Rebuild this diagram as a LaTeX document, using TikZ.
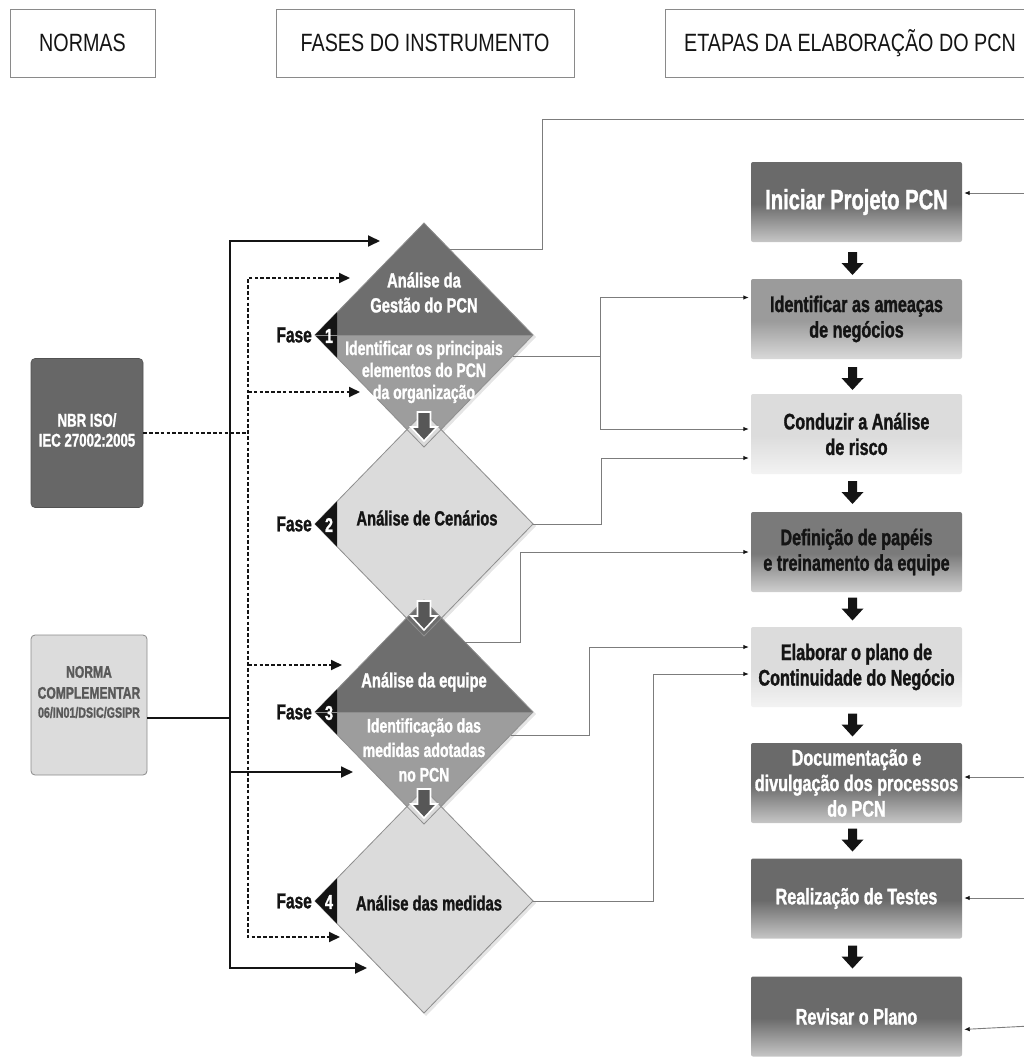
\documentclass[tikz,border=0pt]{standalone}
\usepackage{fontspec}
\setmainfont{Liberation Sans}
\newfontfamily\narrowsans[FakeStretch=0.79]{Liberation Sans}
\newfontfamily\condsans[FakeStretch=0.72, FakeBold=1.3]{Liberation Sans}
\usetikzlibrary{arrows.meta}

\definecolor{ink}{HTML}{141414}
\definecolor{frame}{HTML}{8A8A8A}
\definecolor{dtop}{HTML}{6E6E6E}
\definecolor{dmid}{HTML}{9D9D9D}
\definecolor{dlight}{HTML}{DBDBDB}
\definecolor{dedge}{HTML}{8E8E8E}
\definecolor{overarrow}{HTML}{575757}
\definecolor{linkgray}{HTML}{7C7C7C}
\definecolor{sdarkA}{HTML}{6A6A6A}
\definecolor{sdarkB}{HTML}{C6C6C6}
\definecolor{smidA}{HTML}{7A7A7A}
\definecolor{smidB}{HTML}{CFCFCF}
\definecolor{sgreyA}{HTML}{9B9B9B}
\definecolor{sgreyB}{HTML}{D9D9D9}
\definecolor{spaleA}{HTML}{DCDCDC}
\definecolor{spaleB}{HTML}{F3F3F3}
\definecolor{nbrfill}{HTML}{676767}
\definecolor{ncfill}{HTML}{DCDCDC}
\definecolor{nctext}{HTML}{595959}

% vertical fades of the step boxes (path spans 25bp..75bp)
\pgfdeclareverticalshading{stepdark}{100bp}{color(0bp)=(sdarkB); color(25bp)=(sdarkB); color(49bp)=(sdarkA); color(100bp)=(sdarkA)}
\pgfdeclareverticalshading{stepmid}{100bp}{color(0bp)=(smidB); color(25bp)=(smidB); color(49bp)=(smidA); color(100bp)=(smidA)}
\pgfdeclareverticalshading{stepgrey}{100bp}{color(0bp)=(sgreyB); color(25bp)=(sgreyB); color(49bp)=(sgreyA); color(100bp)=(sgreyA)}
\pgfdeclareverticalshading{steppale}{100bp}{color(0bp)=(spaleB); color(25bp)=(spaleB); color(49bp)=(spaleA); color(100bp)=(spaleA)}

\tikzset{
  hdr/.style={draw=frame, line width=0.9pt, inner sep=0pt, text=ink,
    font=\narrowsans\fontsize{25}{28}\selectfont},
  stepbox/.style={rounded corners=2pt, minimum width=211pt, minimum height=80pt,
    inner sep=0pt, align=center, font=\condsans\bfseries\fontsize{22.5}{25.5}\selectfont},
  normbox/.style={rounded corners=4pt, inner sep=0pt},
  normtext/.style={align=center, inner sep=0pt},
  phasetext/.style={align=center, inner sep=0pt, font=\condsans\bfseries\fontsize{20.5}{25}\selectfont},
  phasesub/.style={align=center, inner sep=0pt, text=white, font=\condsans\bfseries\fontsize{19.5}{22}\selectfont},
  faselbl/.style={inner sep=0pt, text=ink, font=\condsans\bfseries\fontsize{21.5}{22}\selectfont},
  fasenum/.style={inner sep=0pt, text=white, font=\condsans\bfseries\fontsize{20}{22}\selectfont},
  busline/.style={line width=1.8pt, draw=ink, line cap=butt},
  dashbus/.style={line width=1.9pt, draw=ink, dash pattern=on 3.6pt off 2.2pt},
  bustip/.style={-{Triangle[length=12pt,width=11pt]}},
  dashtip/.style={-{Triangle[length=11pt,width=10pt]}},
  stepline/.style={draw=linkgray, line width=0.9pt},
  steptip/.style={-{Latex[length=5.5pt,width=4.5pt,color=ink]}, shorten >=2pt},
  blockdown/.pic={\fill[ink] (-4.5,-11.5) -- (4.5,-11.5) -- (4.5,-0.5) -- (11,-0.5)
     -- (0,11.5) -- (-11,-0.5) -- (-4.5,-0.5) -- cycle;},
}

\begin{document}
\begin{tikzpicture}[x=1pt,y=-1pt]
\useasboundingbox (0,0) rectangle (1023,1057);

% ---------- column headers ----------
\node[hdr, minimum width=145pt, minimum height=68pt] (hnorm) at (82.5,43) {NORMAS};
\node[hdr, minimum width=298pt, minimum height=68pt] (hfase) at (425,43) {FASES DO INSTRUMENTO};
\node[hdr, minimum width=370pt, minimum height=68pt] (hstep) at (850,43) {ETAPAS DA ELABORAÇÃO DO PCN};

% ---------- phase diamonds ----------
\foreach \c in {335,524,712,901}
  \fill[black,opacity=0.10] (426,\c-110) -- (536,\c+2) -- (426,\c+115) -- (317,\c+2) -- cycle;
% phase 1
\fill[dtop] (424,223) -- (533,335) -- (315,335) -- cycle;
\fill[dmid] (315,335) -- (533,335) -- (424,447) -- cycle;
% phase 2
\fill[dlight] (424,412) -- (533,524) -- (424,636) -- (315,524) -- cycle;
% phase 3
\fill[dtop] (424,600) -- (533,712) -- (315,712) -- cycle;
\fill[dmid] (315,712) -- (533,712) -- (424,824) -- cycle;
% phase 4
\fill[dlight] (424,789) -- (533,901) -- (424,1013) -- (315,901) -- cycle;
\foreach \c in {335,524,712,901}{
  \draw[dedge, line width=0.8pt, line join=miter] (424,\c-112) -- (533,\c) -- (424,\c+112) -- (315,\c) -- cycle;
  \fill[ink] (315,\c) -- (337,\c-22.6) -- (337,\c+22.6) -- cycle;
}
\draw[dedge, line width=0.6pt] (315,335) -- (533,335);
\draw[dedge, line width=0.6pt] (315,712) -- (533,712);
% passage arrows between phases
\foreach \c in {335,524,712}
  \filldraw[fill=overarrow, draw=white, line width=1.6pt, line join=miter]
    (417.5,\c+77) -- (430.5,\c+77) -- (430.5,\c+92) -- (437,\c+92) -- (424,\c+106)
    -- (411,\c+92) -- (417.5,\c+92) -- cycle;

% phase texts
\node[phasetext, text=white] (p1a) at (424,292.5) {Análise da\\Gestão do PCN};
\node[phasesub] (p1b) at (424,372) {Identificar os principais\\elementos do PCN\\da organização};
\node[phasetext, text=ink] (p2a) at (427,518) {Análise de Cenários};
\node[phasetext, text=white] (p3a) at (424,682) {Análise da equipe};
\node[phasesub, font=\condsans\bfseries\fontsize{19.5}{24.5}\selectfont] (p3b) at (424,750) {Identificação das\\medidas adotadas\\no PCN};
\node[phasetext, text=ink] (p4a) at (429,903) {Análise das medidas};

% phase labels
\node[faselbl, anchor=east] (f1) at (312,335) {Fase};
\node[faselbl, anchor=east] (f2) at (312,524) {Fase};
\node[faselbl, anchor=east] (f3) at (312,712) {Fase};
\node[faselbl, anchor=east] (f4) at (312,901) {Fase};
\node[fasenum] (n1) at (329,336) {1};
\node[fasenum] (n2) at (329,525) {2};
\node[fasenum] (n3) at (329,713) {3};
\node[fasenum] (n4) at (329,902) {4};

% ---------- standards ----------
\node[normbox, fill=nbrfill, draw=nbrfill!80!black, line width=0.6pt,
      minimum width=112pt, minimum height=149pt] (nbr) at (87,433) {};
\node[normtext, text=white, font=\condsans\bfseries\fontsize{18.4}{20}\selectfont] (nbrt) at (87,430) {NBR ISO/\\IEC 27002:2005};
\node[normbox, fill=ncfill, draw=frame, line width=0.8pt,
      minimum width=116pt, minimum height=140pt] (nc) at (89,705) {};
\node[normtext, text=nctext, font=\condsans\bfseries\fontsize{16.8}{21}\selectfont] (nct) at (89,692) {NORMA\\COMPLEMENTAR\\[-2pt]{\fontsize{14.8}{16}\selectfont 06/IN01/DSIC/GSIPR}};

% ---------- steps of the plan ----------
\node[stepbox, shading=stepdark, text=white, font=\condsans\bfseries\fontsize{28}{30}\selectfont] (s1) at (856.5,202) {Iniciar Projeto PCN};
\node[stepbox, shading=stepgrey, text=ink] (s2) at (856.5,319) {Identificar as ameaças\\de negócios};
\node[stepbox, shading=steppale, text=ink] (s3) at (856.5,434) {Conduzir a Análise\\de risco};
\node[stepbox, shading=stepmid, text=ink] (s4) at (856.5,552) {Definição de papéis\\e treinamento da equipe};
\node[stepbox, shading=steppale, text=ink] (s5) at (856.5,667) {Elaborar o plano de\\Continuidade do Negócio};
\node[stepbox, shading=stepdark, text=white] (s6) at (856.5,783) {Documentação e\\divulgação dos processos\\do PCN};
\node[stepbox, shading=stepdark, text=white] (s7) at (856.5,898.5) {Realização de Testes};
\node[stepbox, shading=stepdark, text=white] (s8) at (856.5,1016.5) {Revisar o Plano};

\pic at (852.5,263.5) {blockdown};
\pic at (852.5,378.5) {blockdown};
\pic at (852.5,492.5) {blockdown};
\pic at (852.5,609) {blockdown};
\pic at (852.5,725) {blockdown};
\pic at (852.5,840) {blockdown};
\pic at (852.5,957) {blockdown};

% ---------- left bus lines ----------
\coordinate (bustop) at (230,241);
\coordinate (busbot) at (230,968);
\coordinate (in1) at (380,241);
\coordinate (in3b) at (353,772);
\coordinate (in4) at (367,968);
\draw[busline, {Triangle[length=12pt,width=11pt]}-{Triangle[length=12pt,width=11pt]}] (in1) -- (bustop) -- (busbot) -- (in4);
\draw[busline, bustip] (230,772) -- (in3b);
\draw[busline] ([yshift=-13pt]nc.east) -- (230,718);

\coordinate (dtop) at (248,278);
\coordinate (dbot) at (248,937);
\coordinate (in1a) at (350,278);
\coordinate (in1b) at (360,392);
\coordinate (in3a) at (342,665);
\coordinate (in4a) at (340,937);
\draw[dashbus, {Triangle[length=11pt,width=10pt]}-{Triangle[length=11pt,width=10pt]}] (in1a) -- (dtop) -- (dbot) -- (in4a);
\draw[dashbus, dashtip] (248,392) -- (in1b);
\draw[dashbus, dashtip] (248,665) -- (in3a);
\draw[dashbus] (nbr.east) -- (248,433);

% ---------- links from phases to steps ----------
\coordinate (d1up) at (449,249);
\coordinate (d1lo) at (512.5,356);
\coordinate (d2r) at (533,524);
\coordinate (d3up) at (465,642);
\coordinate (d3lo) at (510.5,735);
\coordinate (d4r) at (533,901);
\coordinate (loopout) at (1030,119);
\draw[stepline] (d1up) -- (542,249) -- (542,119) -- (loopout);
\draw[stepline] (d1lo) -- (600,356);
\draw[stepline, steptip] (600,356) |- ([yshift=21.5pt]s2.west);
\draw[stepline, steptip] (600,356) |- ([yshift=5pt]s3.west);
\draw[stepline, steptip] (d2r) -- (601,524) |- ([yshift=-24pt]s3.west);
\draw[stepline, steptip] (d3up) -- (520,642) |- (s4.west);
\draw[stepline, steptip] (d3lo) -- (589,735) |- ([yshift=20pt]s5.west);
\draw[stepline, steptip] (d4r) -- (653,901) |- ([yshift=-7pt]s5.west);

% return links entering from the right margin
\coordinate (r1) at (1030,193);
\coordinate (r6) at (1030,777);
\coordinate (r7) at (1030,898);
\coordinate (r8) at (1030,1026);
\draw[stepline, steptip] (r1) -- ([yshift=9pt]s1.east);
\draw[stepline, steptip] (r6) -- ([yshift=6pt]s6.east);
\draw[stepline, steptip] (r7) -- ([yshift=0.5pt]s7.east);
\draw[stepline, steptip] (r8) -- ([yshift=-13pt]s8.east);
\end{tikzpicture}
\end{document}
